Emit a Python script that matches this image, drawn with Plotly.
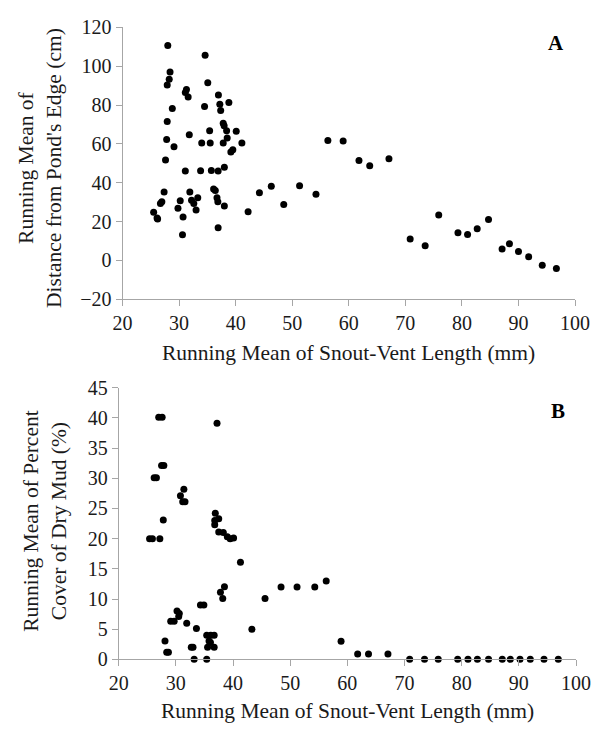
import plotly.graph_objects as go

# Panel A: running mean SVL (mm) vs running mean distance from pond's edge (cm)
svl_a = [28.0, 34.6, 28.4, 28.25, 27.9, 35.07, 31.3, 31.1, 31.6, 36.95,
         38.8, 37.2, 37.35, 34.5, 28.8, 27.9, 37.8, 37.96, 38.4, 35.4,
         40.1, 31.8, 38.5, 27.8, 29.1, 34.0, 35.5, 37.8, 41.1, 39.5,
         39.15, 27.6, 31.1, 33.8, 35.7, 36.9, 38.0, 36.1, 36.4, 27.35,
         31.9, 44.2, 36.7, 36.85, 33.3, 32.2, 30.2, 26.95, 26.7, 32.6,
         38.0, 33.0, 29.8, 42.2, 25.5, 26.1, 26.2, 30.7, 36.9, 30.6,
         46.3, 48.5, 51.3, 54.2, 56.3, 59.0, 61.8, 63.7, 67.1,
         70.85, 73.5, 75.9, 79.3, 81.0, 82.7, 84.7, 87.1, 88.4, 90.0, 91.8, 94.2, 96.7]
dist_a = [110.7, 105.7, 97.0, 93.3, 90.3, 91.5, 88.0, 86.5, 84.2, 85.2,
          81.3, 80.5, 77.2, 79.3, 78.2, 71.5, 70.7, 69.3, 66.8, 66.8,
          66.5, 64.7, 63.0, 62.3, 58.5, 60.5, 60.5, 60.5, 60.5, 57.0,
          55.8, 51.7, 46.0, 46.2, 46.3, 46.0, 48.0, 36.8, 36.0, 35.2,
          35.2, 34.8, 32.2, 30.2, 32.2, 31.0, 30.7, 30.2, 29.3, 29.3,
          28.0, 26.0, 26.8, 25.0, 24.8, 21.8, 21.3, 22.3, 16.8, 13.2,
          38.2, 28.8, 38.5, 34.0, 61.8, 61.5, 51.5, 48.8, 52.3,
          11.0, 7.5, 23.3, 14.2, 13.3, 16.3, 21.0, 5.8, 8.5, 4.5, 1.8, -2.5, -4.2]

# Panel B: running mean SVL (mm) vs running mean percent cover of dry mud (%)
svl_b = [27.0, 27.6, 37.2, 27.5, 27.9, 26.2, 26.6, 31.4, 30.8, 31.2, 31.6,
         36.9, 37.5, 36.8, 36.8, 37.5, 38.3, 39.0, 39.5, 40.1,
         27.8, 25.4, 25.9, 27.2, 41.3, 38.5, 37.8, 38.2, 45.6,
         34.3, 34.9, 30.2, 30.6, 30.5, 29.1, 29.7, 31.9, 33.6, 43.3,
         35.4, 36.1, 36.7, 35.8, 36.05, 35.55, 36.7, 28.1, 28.4, 28.7,
         32.7, 33.0, 33.2, 35.4,
         48.4, 51.2, 54.3, 56.3, 58.9, 61.8, 63.7, 67.1,
         70.9, 73.5, 75.9, 79.3, 81.1, 82.75, 84.7, 87.1, 88.5, 90.2, 92.0, 94.4, 96.9]
mud_b = [40.1, 40.1, 39.1, 32.1, 32.1, 30.1, 30.1, 28.2, 27.1, 26.1, 26.1,
         24.2, 23.3, 23.0, 22.3, 21.1, 21.0, 20.3, 20.0, 20.1,
         23.1, 20.0, 20.0, 20.0, 16.1, 12.05, 11.1, 10.1, 10.1,
         9.0, 9.0, 8.0, 7.6, 7.1, 6.3, 6.3, 6.0, 5.1, 5.0,
         4.0, 4.0, 4.0, 3.05, 2.8, 2.0, 2.0, 3.05, 1.2, 1.2,
         2.0, 2.0, 0.0, 0.0,
         12.0, 12.0, 12.0, 13.0, 3.0, 0.9, 0.9, 0.9,
         0, 0, 0, 0, 0, 0, 0, 0, 0, 0, 0, 0, 0]

x_ticks = [20, 30, 40, 50, 60, 70, 80, 90, 100]
y_ticks_a = [-20, 0, 20, 40, 60, 80, 100, 120]
y_ticks_b = [0, 5, 10, 15, 20, 25, 30, 35, 40, 45]

W, H = 615, 738
FONT = "Liberation Serif, Times New Roman, serif"
AXC = "#a6a6a6"
TXT = "#1a1a1a"

fig = go.Figure()
marker = dict(color="black", size=7, line=dict(width=0))
fig.add_trace(go.Scatter(x=svl_a, y=dist_a, mode="markers", marker=marker,
                         xaxis="x", yaxis="y", cliponaxis=False, showlegend=False))
fig.add_trace(go.Scatter(x=svl_b, y=mud_b, mode="markers", marker=marker,
                         xaxis="x2", yaxis="y2", cliponaxis=False, showlegend=False))

def ax(**kw):
    base = dict(showline=True, linecolor=AXC, linewidth=1, ticks="outside",
                ticklen=6, tickcolor=AXC, tickwidth=1, showgrid=False,
                zeroline=False, tickfont=dict(family=FONT, size=20, color=TXT))
    base.update(kw)
    return base

def px_x(p):
    return p / W

def px_y(p):
    return (H - p) / H

fig.update_layout(
    width=W, height=H, margin=dict(l=0, r=0, t=0, b=0),
    paper_bgcolor="white", plot_bgcolor="white",
    xaxis=ax(domain=[px_x(117.3), px_x(589)], range=[20, 100], tickvals=x_ticks, anchor="y"),
    yaxis=ax(domain=[px_y(297), px_y(17)], range=[-20, 120], tickvals=y_ticks_a, anchor="x"),
    xaxis2=ax(domain=[px_x(113.3), px_x(590)], range=[20, 100], tickvals=x_ticks, anchor="y2"),
    yaxis2=ax(domain=[px_y(668.3), px_y(388.3)], range=[0, 45], tickvals=y_ticks_b, anchor="x2"),
)

tfont = dict(family=FONT, size=21.5, color=TXT)
ann = [
    dict(text="Running Mean of Snout-Vent Length (mm)", x=px_x(353), y=px_y(353),
         xref="paper", yref="paper", showarrow=False, font=tfont, xanchor="center", yanchor="middle"),
    dict(text="Running Mean of Snout-Vent Length (mm)", x=px_x(352), y=px_y(722),
         xref="paper", yref="paper", showarrow=False, font=tfont, xanchor="center", yanchor="middle"),
    dict(text="Running Mean of<br>Distance from Pond's Edge (cm)", x=px_x(31), y=px_y(162),
         xref="paper", yref="paper", showarrow=False, font=tfont, textangle=-90,
         xanchor="center", yanchor="middle"),
    dict(text="Running Mean of Percent<br>Cover of Dry Mud (%)", x=px_x(37), y=px_y(525),
         xref="paper", yref="paper", showarrow=False, font=tfont, textangle=-90,
         xanchor="center", yanchor="middle"),
    dict(text="<b>A</b>", x=px_x(569), y=px_y(33), xref="paper", yref="paper", showarrow=False,
         font=dict(family=FONT, size=21, color="black"), xanchor="center", yanchor="middle"),
    dict(text="<b>B</b>", x=px_x(571), y=px_y(412), xref="paper", yref="paper", showarrow=False,
         font=dict(family=FONT, size=21, color="black"), xanchor="center", yanchor="middle"),
]
fig.update_layout(annotations=ann)

fig.write_html("out.html")
